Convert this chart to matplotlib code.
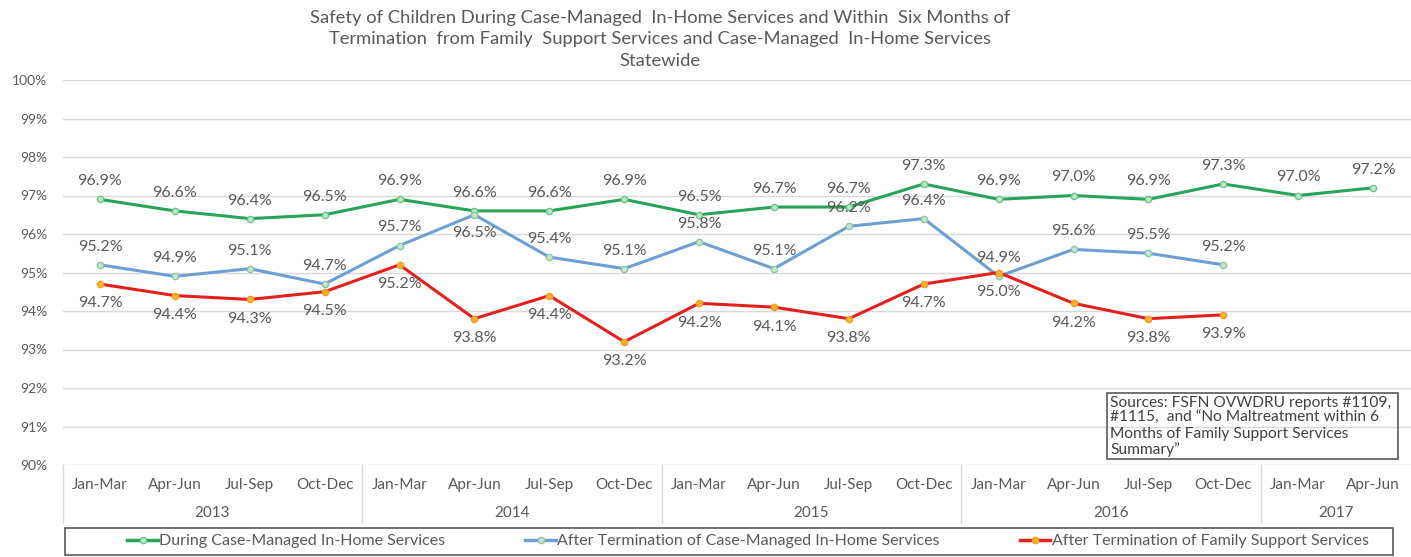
import numpy as np
import matplotlib.pyplot as plt
from matplotlib.patches import Rectangle
from matplotlib.lines import Line2D

plt.rcParams['font.family'] = ['Lato', 'DejaVu Sans']

# quarters and years along the category axis
quarters = ['Jan-Mar', 'Apr-Jun', 'Jul-Sep', 'Oct-Dec'] * 4 + ['Jan-Mar', 'Apr-Jun']
years = ['2013', '2014', '2015', '2016', '2017']
year_sizes = [4, 4, 4, 4, 2]

# percent of children with no maltreatment
during_inhome = [96.9, 96.6, 96.4, 96.5, 96.9, 96.6, 96.6, 96.9, 96.5, 96.7,
                 96.7, 97.3, 96.9, 97.0, 96.9, 97.3, 97.0, 97.2]
after_inhome = [95.2, 94.9, 95.1, 94.7, 95.7, 96.5, 95.4, 95.1, 95.8, 95.1,
                96.2, 96.4, 94.9, 95.6, 95.5, 95.2]
after_family = [94.7, 94.4, 94.3, 94.5, 95.2, 93.8, 94.4, 93.2, 94.2, 94.1,
                93.8, 94.7, 95.0, 94.2, 93.8, 93.9]

series_names = ['During Case-Managed In-Home Services',
                'After Termination of Case-Managed In-Home Services',
                'After Termination of Family Support Services']

title = ('Safety of Children During Case-Managed  In-Home Services and Within  Six Months of\n'
         'Termination  from Family  Support Services and Case-Managed  In-Home Services\n'
         'Statewide')
source_note = ('Sources: FSFN OVWDRU reports #1109,\n'
               '#1115,  and \u201cNo Maltreatment within 6\n'
               'Months of Family Support Services\n'
               'Summary\u201d')

txt = '#595959'
grid = '#d9d9d9'
styles = [
    dict(color='#28a45a', mfc='#bfe8c8', mec='#6cc48a'),
    dict(color='#6e9fd4', mfc='#c8e6cf', mec='#8cc6a0'),
    dict(color='#e3201e', mfc='#f8b030', mec='#f0a020'),
]

fig = plt.figure(figsize=(14.11, 5.57), dpi=100)
ax = fig.add_axes([62.5 / 1411, 1 - 465 / 557, 1348 / 1411, 385 / 557])

x = np.arange(len(quarters))
all_series = [during_inhome, after_inhome, after_family]
for vals, st in zip(all_series, styles):
    ax.plot(x[:len(vals)], vals, color=st['color'], lw=2.2, marker='o', ms=4.5,
            mfc=st['mfc'], mec=st['mec'], mew=1, zorder=3)

# value labels: green and blue above, red below
for i, v in enumerate(during_inhome):
    ax.annotate(f'{v:.1f}%', (i, v), xytext=(0, 13), textcoords='offset points',
                ha='center', va='center', fontsize=11.5, color=txt)
for i, v in enumerate(after_inhome):
    dy = -13 if i == 5 else 13
    ax.annotate(f'{v:.1f}%', (i, v), xytext=(0, dy), textcoords='offset points',
                ha='center', va='center', fontsize=11.5, color=txt)
for i, v in enumerate(after_family):
    ax.annotate(f'{v:.1f}%', (i, v), xytext=(0, -14), textcoords='offset points',
                ha='center', va='center', fontsize=11.5, color=txt)

ax.set_xlim(-0.5, len(quarters) - 0.5)
ax.set_ylim(90, 100)
ax.set_yticks(np.arange(90, 101, 1))
ax.set_yticklabels([f'{t}%' for t in range(90, 101)])
ax.tick_params(axis='y', length=0, pad=11, labelsize=10, labelcolor=txt)
ax.set_xticks([])
ax.grid(axis='y', color=grid, lw=1)
ax.set_axisbelow(True)
for s in ax.spines.values():
    s.set_visible(False)

# two-level category axis
trans = ax.get_xaxis_transform()
for i, q in enumerate(quarters):
    ax.text(i, -0.052, q, transform=trans, ha='center', va='center',
            fontsize=11, color=txt)
edges = np.concatenate([[0], np.cumsum(year_sizes)]) - 0.5
for k, yr in enumerate(years):
    ax.text((edges[k] + edges[k + 1]) / 2, -0.125, yr, transform=trans,
            ha='center', va='center', fontsize=11, color=txt)
for e in edges[:-1]:
    ax.plot([e, e], [0, -0.151], transform=trans, color=grid, lw=1, clip_on=False)

# sources box
ax.add_patch(Rectangle((13.45, 90.16), 3.88, 1.71, fill=False, ec='#595959',
                       lw=1.2, zorder=4))
ax.text(13.49, 91.80, source_note, ha='left', va='top', fontsize=11.2,
        color='#404040', linespacing=1.14, zorder=5)

fig.text(0.468, 0.982, title, ha='center', va='top', fontsize=13.2,
         color=txt, linespacing=1.42)

# legend in a wide frame under the axis
fig.patches.append(Rectangle((65 / 1411, 1 - 555 / 557), 1328 / 1411, 27 / 557,
                             transform=fig.transFigure, fill=False,
                             ec='#595959', lw=1.2))
handles = [Line2D([], [], color=st['color'], lw=2.5, marker='o', ms=4.5,
                  mfc=st['mfc'], mec=st['mec']) for st in styles]
fig.legend(handles, series_names, loc='center', ncol=3, frameon=False,
           bbox_to_anchor=(748 / 1411, 1 - 541 / 557), fontsize=11.5,
           labelcolor=txt, handlelength=1.9, handletextpad=0.1,
           columnspacing=5.0)

fig.savefig('out.png', dpi=100, facecolor='white')
